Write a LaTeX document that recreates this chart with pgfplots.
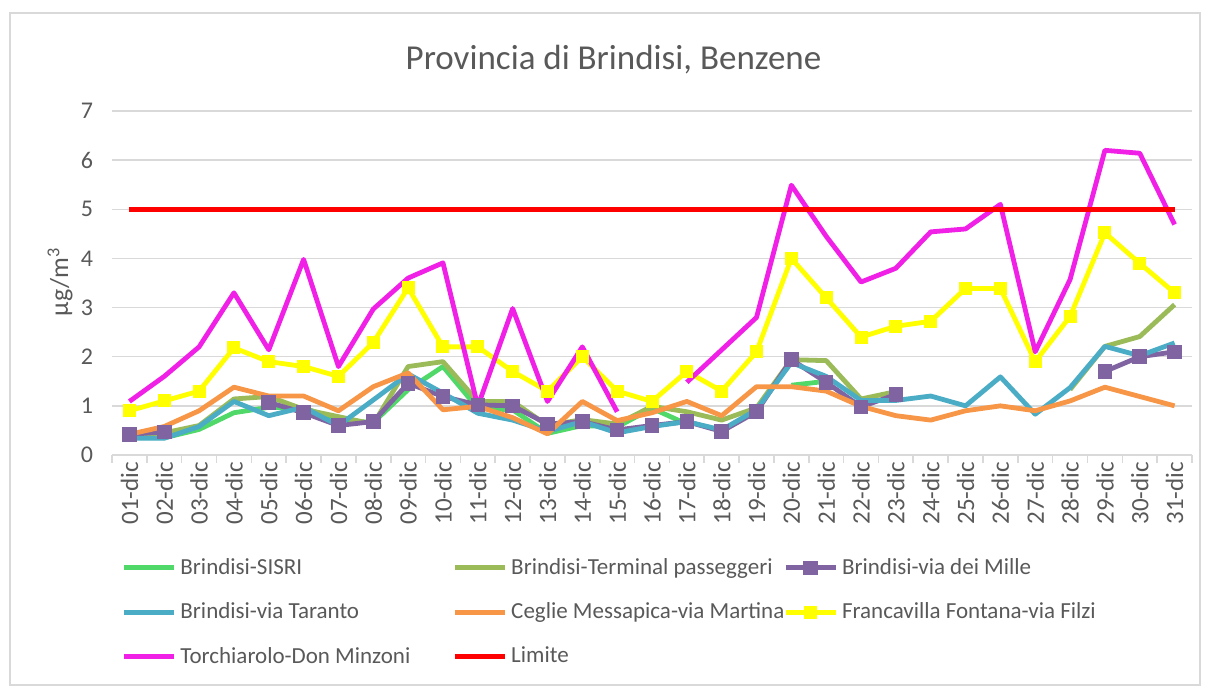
\documentclass[border=0pt]{standalone}
\usepackage{fontspec}
\setmainfont{Carlito}
\usepackage{pgfplots}
\usepackage{pgfplotstable}
\pgfplotsset{compat=1.18}
\definecolor{txtgray}{RGB}{89,89,89}
\definecolor{gridgray}{RGB}{217,217,217}
\definecolor{cGreen}{RGB}{80,216,104}
\definecolor{cOlive}{RGB}{155,187,89}
\definecolor{cPurple}{RGB}{128,100,162}
\definecolor{cCyan}{RGB}{75,172,198}
\definecolor{cOrange}{RGB}{247,150,70}
\definecolor{cYellow}{RGB}{255,255,0}
\definecolor{cMagenta}{RGB}{240,32,230}
\definecolor{cRed}{RGB}{255,0,0}
\pgfplotstableread{
day sisri term mille taranto ceglie franc torch lim
1  0.35 0.40 0.42 0.34 0.42 0.90 1.09 5
2  0.35 0.45 0.47 0.34 0.58 1.10 1.60 5
3  0.52 0.60 nan  0.58 0.90 1.30 2.20 5
4  0.86 1.14 nan  1.09 1.38 2.18 3.30 5
5  0.97 1.19 1.07 0.80 1.20 1.90 2.14 5
6  0.96 0.93 0.86 0.97 1.20 1.80 3.98 5
7  0.71 0.78 0.60 0.60 0.90 1.60 1.80 5
8  0.66 0.63 0.68 1.12 1.39 2.29 2.97 5
9  1.33 1.80 1.46 1.65 1.67 3.40 3.60 5
10 1.80 1.90 1.19 1.26 0.92 2.20 3.91 5
11 0.95 1.09 1.02 0.85 0.99 2.20 0.99 5
12 0.92 1.09 1.00 0.71 0.76 1.70 2.98 5
13 0.44 0.60 0.63 0.48 0.43 1.30 1.09 5
14 0.60 0.72 0.68 0.68 1.09 2.00 2.20 5
15 0.57 0.63 0.51 0.45 0.70 1.30 0.88 5
16 0.95 0.99 0.60 0.58 0.86 1.09 nan  5
17 0.63 0.88 0.68 0.68 1.09 1.70 1.48 5
18 nan  0.71 0.48 0.51 0.80 1.30 2.14 5
19 nan  0.96 0.88 0.92 1.39 2.10 2.80 5
20 1.42 1.94 1.94 1.88 1.39 4.00 5.49 5
21 1.50 1.92 1.48 1.60 1.30 3.20 4.45 5
22 nan  1.14 0.98 1.11 0.99 2.40 3.52 5
23 nan  1.29 1.23 1.11 0.80 2.62 3.80 5
24 nan  nan  nan  1.20 0.71 2.72 4.54 5
25 nan  nan  nan  1.00 0.90 3.39 4.60 5
26 nan  nan  nan  1.59 1.00 3.39 5.10 5
27 nan  nan  nan  0.83 0.90 1.90 2.10 5
28 nan  1.33 nan  1.37 1.10 2.82 3.57 5
29 nan  2.21 1.70 2.21 1.38 4.52 6.20 5
30 nan  2.41 2.00 2.02 1.19 3.90 6.14 5
31 nan  3.06 2.10 2.28 1.00 3.30 4.69 5
}\datatable
\begin{document}
\begin{tikzpicture}
\path[use as bounding box] (0,0) rectangle (602.5pt,343pt);
\draw[color=gridgray, line width=0.8pt] (5pt,0.5pt) rectangle (600pt,336.5pt);
\node[text=txtgray, font=\fontsize{17.5}{20}\selectfont] at (306.75pt,313pt) {Provincia di Brindisi, Benzene};
\node[rotate=90, text=txtgray, font=\fontsize{13}{15}\selectfont] at (30pt,202pt) {µg/m\textsuperscript{3}};
\begin{axis}[
  at={(56pt,115.5pt)}, anchor=south west,
  scale only axis, width=540pt, height=172pt,
  xmin=0.5, xmax=31.5, ymin=0, ymax=7,
  ytick={0,...,7},
  xtick={1,...,31},
  xticklabels={01-dic,02-dic,03-dic,04-dic,05-dic,06-dic,07-dic,08-dic,09-dic,10-dic,11-dic,12-dic,13-dic,14-dic,15-dic,16-dic,17-dic,18-dic,19-dic,20-dic,21-dic,22-dic,23-dic,24-dic,25-dic,26-dic,27-dic,28-dic,29-dic,30-dic,31-dic},
  minor xtick={0.5,1.5,...,31.5},
  major tick length=0pt, minor tick length=4pt,
  tick align=outside,
  axis lines*=left,
  x axis line style={draw=gridgray, line width=0.8pt},
  y axis line style={draw=none},
  minor tick style={draw=gridgray, line width=0.8pt},
  major tick style={draw=none},
  ymajorgrids, grid style={draw=gridgray, line width=0.7pt},
  /pgf/number format/assume math mode=true,
  yticklabel style={font=\fontsize{12}{14}\selectfont, text=txtgray, xshift=-6pt},
  xticklabel style={rotate=90, anchor=east, font=\fontsize{12.5}{14}\selectfont, text=txtgray},
  unbounded coords=jump,
  every axis plot/.append style={line width=2.4pt, line join=round},
  legend columns=3,
  legend cell align=left,
  legend image code/.code={\draw[#1, mark repeat=2, mark phase=2] plot coordinates {(0pt,0pt) (12.5pt,0pt) (25pt,0pt)};},
  legend style={at={(0.003,-0.276)}, anchor=north west, draw=none, fill=none,
    font=\fontsize{11.5}{13.5}\selectfont, text=txtgray, row sep=8.7pt,
    /tikz/every even column/.append style={column sep=0pt}},
]
\addplot[cGreen, no marks] table[x=day, y=sisri] {\datatable};
\addlegendentry{\makebox[134pt][l]{Brindisi-SISRI}}
\addplot[cOlive, no marks] table[x=day, y=term] {\datatable};
\addlegendentry{\makebox[134pt][l]{Brindisi-Terminal passeggeri}}
\addplot[cPurple, mark=square*, mark size=3.4pt, mark options={solid, line width=0pt}] table[x=day, y=mille] {\datatable};
\addlegendentry{Brindisi-via dei Mille}
\addplot[cCyan, no marks] table[x=day, y=taranto] {\datatable};
\addlegendentry{\makebox[134pt][l]{Brindisi-via Taranto}}
\addplot[cOrange, no marks] table[x=day, y=ceglie] {\datatable};
\addlegendentry{\makebox[134pt][l]{Ceglie Messapica-via Martina}}
\addplot[cYellow, mark=square*, mark size=3pt, mark options={solid, line width=0pt}] table[x=day, y=franc] {\datatable};
\addlegendentry{Francavilla Fontana-via Filzi}
\addplot[cMagenta, no marks] table[x=day, y=torch] {\datatable};
\addlegendentry{\makebox[134pt][l]{Torchiarolo-Don Minzoni}}
\addplot[cRed, no marks] table[x=day, y=lim] {\datatable};
\addlegendentry{\makebox[134pt][l]{Limite}}
\end{axis}
\end{tikzpicture}
\end{document}
